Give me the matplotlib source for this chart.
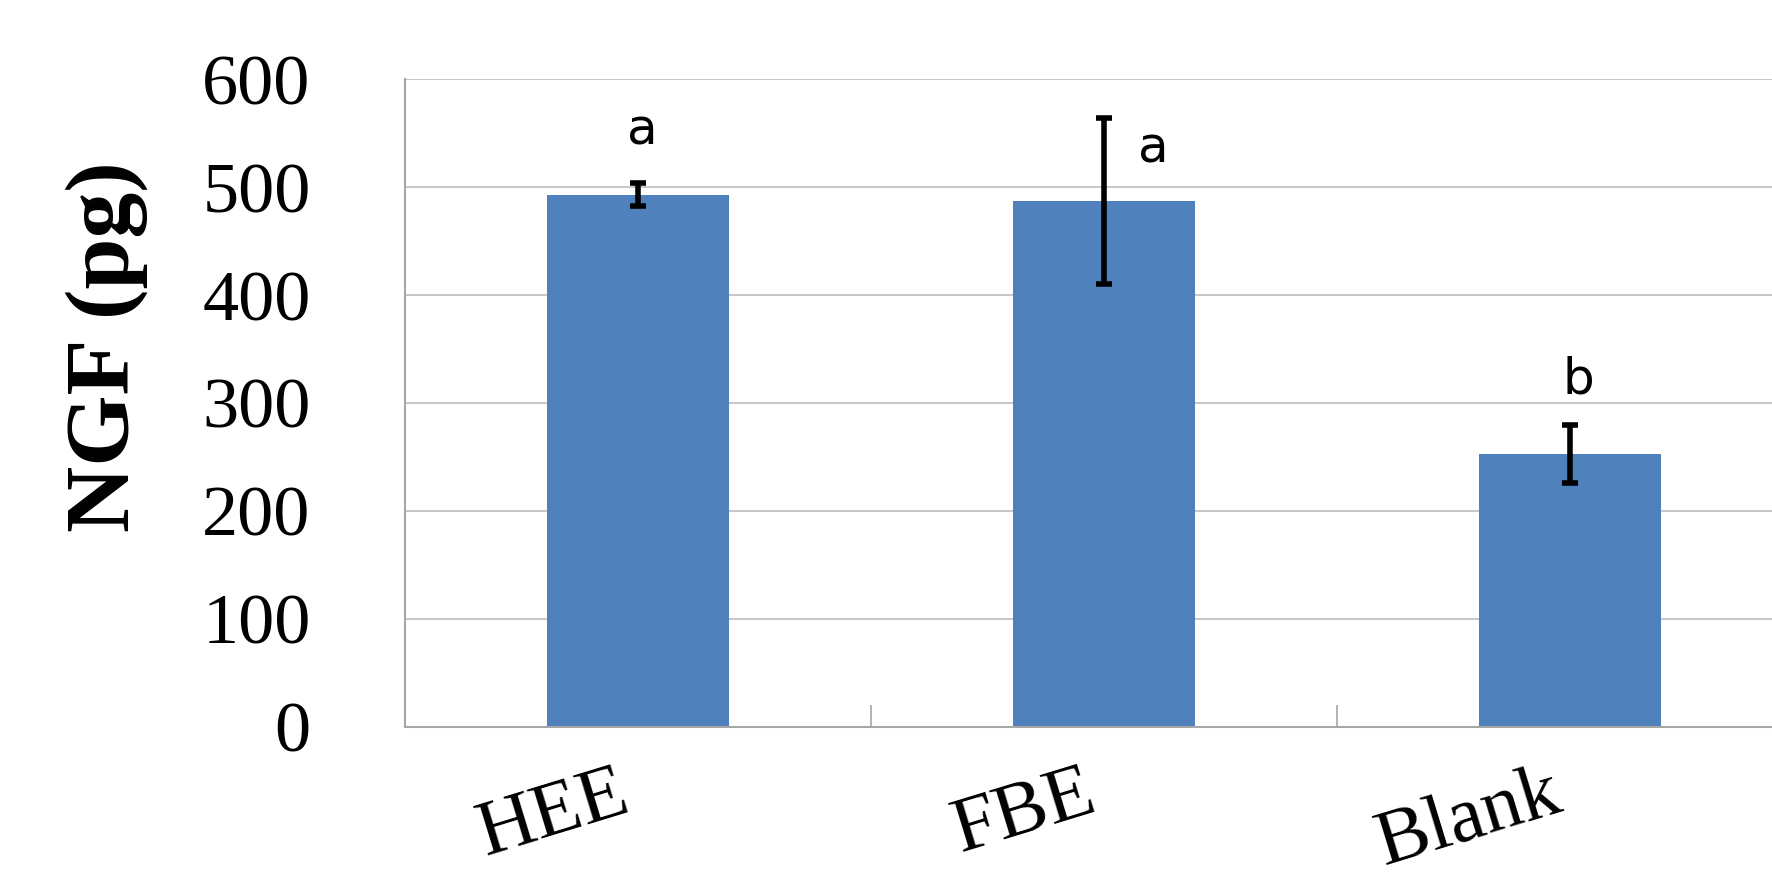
import numpy as np
import matplotlib.pyplot as plt

# Data
groups = ["HEE", "FBE", "Blank"]
ngf = [493, 487, 253]
ngf_err = [11, 77, 27]
letters = ["a", "a", "b"]
letter_y = [552, 536, 322]
letter_dx = [0.01, 0.105, 0.017]

bar_color = "#4F81BD"
grid_color = "#BEBEBE"

fig = plt.figure(figsize=(17.72, 8.8), dpi=100)
ax = fig.add_axes([0.2286, 0.1739, 0.789, 0.7363])

x = np.arange(len(groups))
ax.bar(x, ngf, width=0.39, color=bar_color, zorder=2)
ax.errorbar(x, ngf, yerr=ngf_err, fmt="none", ecolor="black",
            elinewidth=4, capsize=6, capthick=4, zorder=3)

for xi, lab, ly, dx in zip(x, letters, letter_y, letter_dx):
    ax.text(xi + dx, ly, lab, ha="center", va="center",
            fontsize=36, family="DejaVu Sans", color="black")

ax.set_xlim(-0.5, 2.5)
ax.set_ylim(0, 600)
ax.set_yticks(np.arange(0, 601, 100))
ax.yaxis.grid(True, color=grid_color, linewidth=1.2, zorder=0)
ax.set_axisbelow(True)

# y tick labels
ax.tick_params(axis="y", length=0, pad=68, labelsize=52)
for t in ax.get_yticklabels():
    t.set_family("Liberation Serif")

# x labels and boundary ticks
ax.set_xticks(x)
ax.set_xticklabels(groups, rotation=17, ha="right",
                   family="Liberation Serif", fontsize=57)
ax.tick_params(axis="x", which="major", length=0, pad=22)
ax.set_xticks([0.5, 1.5, 2.5], minor=True)
ax.tick_params(axis="x", which="minor", direction="in", length=16,
               width=1.2, color="#A6A6A6")

for side in ["left", "bottom"]:
    ax.spines[side].set_color("#A6A6A6")
    ax.spines[side].set_linewidth(1.5)
ax.spines["top"].set_visible(False)
ax.spines["right"].set_visible(False)

fig.text(107 / 1772, 1 - 347 / 880, "NGF (pg)", rotation=90,
         ha="center", va="center", fontsize=66, fontweight="bold",
         family="Liberation Serif")

fig.savefig("out.png", dpi=100)
